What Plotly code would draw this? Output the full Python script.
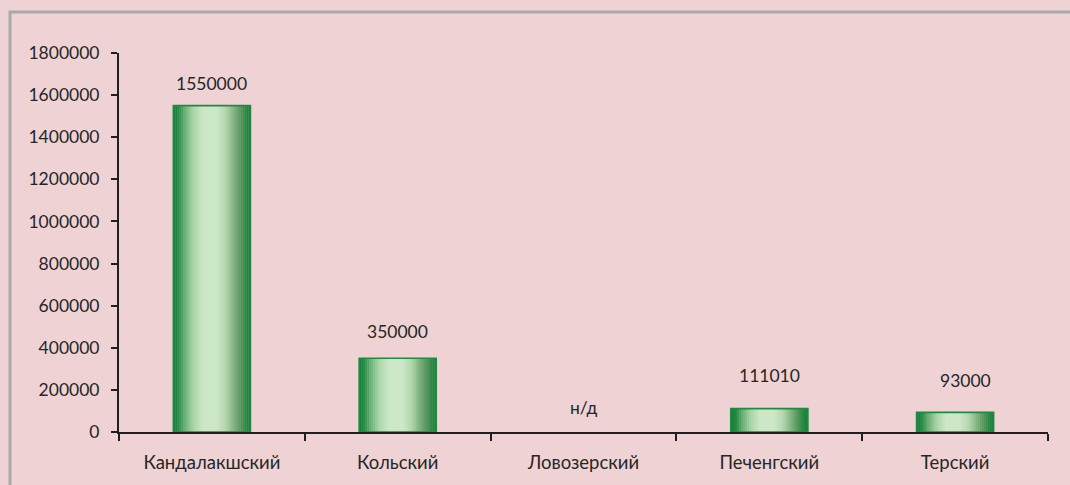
import plotly.graph_objects as go

# ---- data ----
districts = ["Кандалакшский", "Кольский", "Ловозерский", "Печенгский", "Терский"]
values = [1550000, 350000, None, 111010, 93000]
y_ticks = [0, 200000, 400000, 600000, 800000, 1000000, 1200000, 1400000, 1600000, 1800000]
missing_label = "н/д"

# ---- style ----
label_yshift = [22, 27, 25, 33, 32]
label_xshift = [0, 0, 0, 0, 10]
FONT = "Lato, 'Open Sans', sans-serif"
FS = 17.5
FS_CAT = 18.5
TXT = "#262626"
BG = "#EFD3D4"
BAR_W = 0.415
N_STRIPS = 38

stops = [
    (0.00, (24, 128, 58)),
    (0.06, (30, 134, 64)),
    (0.14, (100, 170, 112)),
    (0.26, (170, 213, 168)),
    (0.38, (203, 231, 198)),
    (0.56, (205, 232, 200)),
    (0.68, (178, 214, 173)),
    (0.80, (118, 172, 118)),
    (0.90, (66, 142, 80)),
    (0.95, (34, 134, 64)),
    (1.00, (24, 128, 58)),
]


def grad(t):
    for (t0, c0), (t1, c1) in zip(stops[:-1], stops[1:]):
        if t0 <= t <= t1:
            f = 0 if t1 == t0 else (t - t0) / (t1 - t0)
            c = [round(a + (b - a) * f) for a, b in zip(c0, c1)]
            return "rgb(%d,%d,%d)" % tuple(c)
    return "rgb(%d,%d,%d)" % stops[-1][1]


fig = go.Figure()
sw = BAR_W / N_STRIPS
for i in range(N_STRIPS):
    t = (i + 0.5) / N_STRIPS
    fig.add_trace(go.Bar(
        x=districts, y=values,
        width=sw * 1.15, offset=-BAR_W / 2 + i * sw,
        marker=dict(color=grad(t), line=dict(width=0)),
        hoverinfo="skip", showlegend=False,
    ))

# outline
fig.add_trace(go.Bar(
    x=districts, y=values, width=BAR_W,
    marker=dict(color="rgba(0,0,0,0)", line=dict(color="#1E8A44", width=1.6)),
    hoverinfo="skip", showlegend=False,
))

annotations = []
for i, (d, v) in enumerate(zip(districts, values)):
    annotations.append(dict(
        x=d, y=v if v is not None else 0, xref="x", yref="y",
        text=str(v) if v is not None else missing_label,
        showarrow=False, yshift=label_yshift[i], xshift=label_xshift[i],
        font=dict(family=FONT, size=FS, color=TXT),
    ))

L, R, T, B = 119, 22, 53, 53
W, H = 1070, 485
pw, ph = W - L - R, H - T - B
px = lambda x: (x - L) / pw
py = lambda y: (H - B - y) / ph

shapes = [dict(
    type="path", xref="paper", yref="paper",
    path="M %f %f L %f %f L %f %f" % (px(10), py(H + 5), px(10), py(12), px(W + 5), py(12)),
    line=dict(color="#A9A9AB", width=3),
)]

fig.update_layout(
    width=W, height=H,
    margin=dict(l=L, r=R, t=T, b=B),
    paper_bgcolor=BG, plot_bgcolor=BG,
    barmode="overlay",
    annotations=annotations,
    shapes=shapes,
    font=dict(family=FONT, size=FS, color=TXT),
    xaxis=dict(
        type="category", range=[-0.5, 4.5],
        showgrid=False, zeroline=False,
        showline=True, linecolor="#1F1F1F", linewidth=2,
        ticks="outside", tickson="boundaries", ticklen=7, tickwidth=2, tickcolor="#1F1F1F",
        ticklabelstandoff=13,
        tickfont=dict(family=FONT, size=FS_CAT, color=TXT),
    ),
    yaxis=dict(
        range=[0, 1800000], tickvals=y_ticks, ticktext=[str(t) for t in y_ticks],
        showgrid=False, zeroline=False,
        showline=True, linecolor="#1F1F1F", linewidth=2,
        ticks="outside", ticklen=6, tickwidth=2, tickcolor="#1F1F1F",
        ticklabelstandoff=8,
        tickfont=dict(family=FONT, size=FS, color=TXT),
    ),
)

fig.write_html(
    "out.html",
    config={"displayModeBar": False},
    post_script="document.body.style.margin='0px';document.body.style.overflow='hidden';",
)
